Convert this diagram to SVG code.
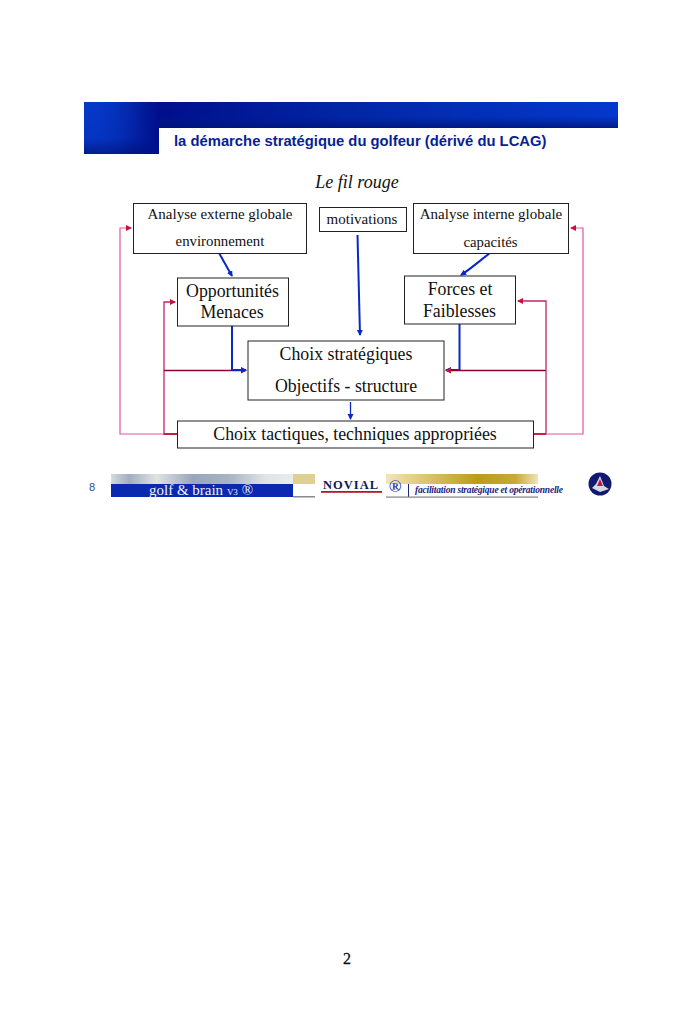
<svg xmlns="http://www.w3.org/2000/svg" width="700" height="1028" viewBox="0 0 700 1028">
<style>
.box{fill:#fff;stroke:#222;stroke-width:1}
.t{font-family:"Liberation Serif",serif;fill:#111;text-anchor:middle}
.b{fill:none;stroke:#0a28c8;stroke-width:2}
.p{fill:none;stroke:#e0559f;stroke-width:1.2}
.m{fill:none;stroke:#c0246e;stroke-width:1.3}
.d{fill:none;stroke:#8a0038;stroke-width:1.5}
</style>
<defs>
<linearGradient id="hb" x1="0" y1="0" x2="0" y2="1"><stop offset="0" stop-color="#0638c8"/><stop offset=".7" stop-color="#0434c0"/><stop offset="1" stop-color="#001c88"/></linearGradient>
<linearGradient id="hr" x1="0" y1="0" x2="1" y2="0"><stop offset="0" stop-color="#000f8c"/><stop offset=".45" stop-color="#0228a8"/><stop offset="1" stop-color="#0438cc"/></linearGradient>
<linearGradient id="hl" x1="0" y1="0" x2="1" y2="0"><stop offset="0" stop-color="#0a40d8" stop-opacity="0"/><stop offset=".6" stop-color="#000c80" stop-opacity=".35"/><stop offset="1" stop-color="#000f8c"/></linearGradient>
<linearGradient id="hs" x1="0" y1="0" x2="0" y2="1"><stop offset="0" stop-color="#001c88" stop-opacity="0"/><stop offset="1" stop-color="#001478" stop-opacity=".85"/></linearGradient>
<linearGradient id="gr" x1="0" y1="0" x2="1" y2="0"><stop offset="0" stop-color="#d4dae0"/><stop offset=".1" stop-color="#a0aec0"/><stop offset=".25" stop-color="#dfe3e4"/><stop offset=".45" stop-color="#98a6bc"/><stop offset=".65" stop-color="#a8b4c4"/><stop offset=".85" stop-color="#dfe4e8"/><stop offset="1" stop-color="#e8ecec"/></linearGradient>
<linearGradient id="go" x1="0" y1="0" x2="1" y2="0"><stop offset="0" stop-color="#f2e6b8"/><stop offset=".6" stop-color="#bf9a18"/><stop offset=".85" stop-color="#c8a838"/><stop offset="1" stop-color="#f0e4b8"/></linearGradient>
<marker id="ab" markerWidth="7" markerHeight="7" refX="5" refY="3" orient="auto" markerUnits="userSpaceOnUse"><path d="M0 0L6 3L0 6z" fill="#0a28c8"/></marker>
<marker id="ar" markerWidth="7" markerHeight="7" refX="5" refY="3" orient="auto" markerUnits="userSpaceOnUse"><path d="M0 0L6 3L0 6z" fill="#c8103c"/></marker>
</defs>
<rect width="700" height="1028" fill="#fff"/>
<g id="header">
<rect x="84" y="102" width="75" height="52" fill="url(#hb)"/>
<rect x="84" y="102" width="75" height="52" fill="url(#hl)"/>
<rect x="159" y="102" width="459" height="26" fill="url(#hr)"/>
<rect x="159" y="116" width="459" height="12" fill="url(#hs)"/>
<text x="174" y="146" font-family="Liberation Sans,sans-serif" font-size="14.8" font-weight="bold" fill="#0a1e96">la démarche stratégique du golfeur (dérivé du LCAG)</text>
</g>
<text x="357" y="188" class="t" font-size="18" font-style="italic">Le fil rouge</text>
<g id="connectors">
<path class="p" d="M177 434H120V228H131" marker-end="url(#ar)"/>
<path class="m" d="M177 434H164V302H175" marker-end="url(#ar)"/>
<path class="d" d="M164 370.500H246" marker-end="url(#ar)"/>
<path class="b" d="M232 326V370H246" marker-end="url(#ab)"/>
<path class="b" d="M219 253L232 276" marker-end="url(#ab)"/>
<path class="b" d="M357.500 235L360 335" marker-end="url(#ab)"/>
<path class="b" d="M490 253C478 262 472 268 461 275" marker-end="url(#ab)"/>
<path class="b" d="M459.500 324V370H446" marker-end="url(#ab)"/>
<path class="d" d="M546 370.500H446" marker-end="url(#ar)"/>
<path class="m" d="M533 434H546V301H518" marker-end="url(#ar)"/>
<path class="p" d="M546 434H583V228H571" marker-end="url(#ar)"/>
<path d="M350.500 402V419" fill="none" stroke="#0a28c8" stroke-width="1.300" marker-end="url(#ab)"/>
<path d="M177 434H164M533 434H546" stroke="#c0102c" stroke-width="1.500" fill="none"/>
</g>
<g id="ext"><rect class="box" x="133.500" y="203.500" width="173" height="50"/><text class="t" x="220" y="219" font-size="15">Analyse externe globale</text><text class="t" x="220" y="246" font-size="14.800">environnement</text></g>
<g id="motiv"><rect class="box" x="319.500" y="207.500" width="87" height="24"/><text class="t" x="362" y="224" font-size="15">motivations</text></g>
<g id="int"><rect class="box" x="413.500" y="203.500" width="155" height="50"/><text class="t" x="491" y="219" font-size="15">Analyse interne globale</text><text class="t" x="490.500" y="247" font-size="14.800">capacités</text></g>
<g id="opp"><rect class="box" x="177.500" y="278" width="111" height="48"/><text class="t" x="232.500" y="297" font-size="17.800">Opportunités</text><text class="t" x="232" y="318" font-size="17.800">Menaces</text></g>
<g id="forces"><rect class="box" x="404.500" y="276" width="111" height="48"/><text class="t" x="460" y="295" font-size="17.800">Forces et</text><text class="t" x="459.500" y="317" font-size="17.800">Faiblesses</text></g>
<g id="choix"><rect class="box" x="248" y="341" width="196" height="59"/><text class="t" x="346" y="360" font-size="17.800">Choix stratégiques</text><text class="t" x="346" y="392" font-size="17.800">Objectifs - structure</text></g>
<g id="tactiques"><rect class="box" x="177.500" y="421" width="356" height="27"/><text class="t" x="355" y="440" font-size="17.800">Choix tactiques, techniques appropriées</text></g>
<g id="footer">
<text x="92" y="491" font-family="Liberation Sans,sans-serif" font-size="11" fill="#2a4aa8" text-anchor="middle">8</text>
<rect x="111" y="474" width="182" height="11" fill="url(#gr)"/>
<rect x="111" y="484" width="182" height="13" fill="#0a28b0"/>
<rect x="293" y="474" width="22" height="10" fill="#e0d090"/>
<rect x="293" y="496" width="22" height="1.500" fill="#8a8a90"/>
<text x="201" y="495" font-family="Liberation Serif,serif" font-size="15" fill="#f0f0f4" text-anchor="middle">golf &amp; brain <tspan font-size="9">V3</tspan> ®</text>
<text x="351" y="489" font-family="Liberation Serif,serif" font-size="12.500" font-weight="bold" fill="#101858" letter-spacing="1" text-anchor="middle">NOVIAL</text>
<rect x="321" y="491" width="61" height="1.800" fill="#b81830"/>
<rect x="386" y="474" width="152" height="10" fill="url(#go)"/>
<text x="395" y="492" font-family="Liberation Serif,serif" font-size="17" font-weight="bold" fill="#1a3ab0" text-anchor="middle">®</text>
<path d="M408.500 484V497" stroke="#1a2a70" stroke-width="1"/>
<rect x="386" y="496.500" width="152" height="1.200" fill="#808088"/>
<text x="415" y="493" font-family="Liberation Serif,serif" font-size="9.500" font-style="italic" font-weight="bold" fill="#18247a" textLength="148">facilitation stratégique et opérationnelle</text>
<circle cx="600" cy="484" r="11.500" fill="#101a70"/>
<path d="M600 476L604 486L609 489L600 492L592 488L596 484Z" fill="#d8d8e8"/>
<path d="M600 479L603 486L597 486Z" fill="#b02038"/>
</g>
<text x="347" y="964" class="t" font-size="16" stroke="#111" stroke-width=".3">2</text>
</svg>
